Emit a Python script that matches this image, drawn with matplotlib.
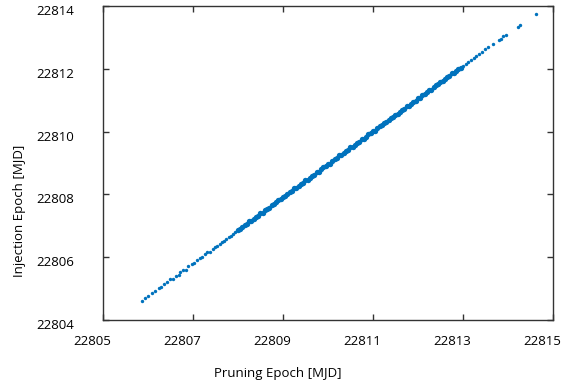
import matplotlib
matplotlib.use("Agg")
import matplotlib.pyplot as plt
import matplotlib.transforms as mtransforms

plt.rcParams['font.family'] = ['Open Sans', 'DejaVu Sans']

# pruning epoch (x) and injection epoch (y), MJD
low_x = [22805.86, 22805.93, 22806.00, 22806.08, 22806.16, 22806.24, 22806.30, 22806.36,
         22806.43, 22806.50, 22806.55, 22806.62, 22806.68, 22806.72, 22806.78, 22806.84,
         22806.90, 22806.97, 22807.03, 22807.10, 22807.15, 22807.21, 22807.27, 22807.32,
         22807.38, 22807.44, 22807.49, 22807.54, 22807.59, 22807.64, 22807.69, 22807.74,
         22807.79, 22807.84, 22807.89, 22807.94]
low_y = [22804.61, 22804.69, 22804.77, 22804.85, 22804.93, 22805.02, 22805.04, 22805.14,
         22805.22, 22805.32, 22805.30, 22805.41, 22805.43, 22805.52, 22805.58, 22805.60,
         22805.71, 22805.78, 22805.81, 22805.92, 22805.97, 22806.00, 22806.09, 22806.15,
         22806.18, 22806.27, 22806.33, 22806.35, 22806.43, 22806.48, 22806.50, 22806.59,
         22806.64, 22806.67, 22806.74, 22806.80]

mid_x = [22808.00, 22808.05, 22808.10, 22808.15, 22808.20, 22808.25, 22808.30, 22808.35,
         22808.40, 22808.45, 22808.50, 22808.55, 22808.60, 22808.65, 22808.70, 22808.75,
         22808.80, 22808.85, 22808.90, 22808.95, 22809.00, 22809.05, 22809.10, 22809.15,
         22809.20, 22809.25, 22809.30, 22809.35, 22809.40, 22809.45, 22809.50, 22809.55,
         22809.60, 22809.65, 22809.70, 22809.75, 22809.80, 22809.85, 22809.90, 22809.95,
         22810.00, 22810.05, 22810.10, 22810.15, 22810.20, 22810.25, 22810.30, 22810.35,
         22810.40, 22810.45, 22810.50, 22810.55, 22810.60, 22810.65, 22810.70, 22810.75,
         22810.80, 22810.85, 22810.90, 22810.95, 22811.00, 22811.05, 22811.10, 22811.15,
         22811.20, 22811.25, 22811.30, 22811.35, 22811.40, 22811.45, 22811.50, 22811.55,
         22811.60, 22811.65, 22811.70, 22811.75, 22811.80, 22811.85, 22811.90, 22811.95,
         22812.00, 22812.05, 22812.10, 22812.15, 22812.20, 22812.25, 22812.30, 22812.35,
         22812.40, 22812.45, 22812.50, 22812.55, 22812.60, 22812.65, 22812.70, 22812.75,
         22812.80, 22812.85, 22812.90, 22812.95]
mid_y = [22806.88, 22806.89, 22806.96, 22807.03, 22807.06, 22807.14, 22807.15, 22807.23,
         22807.29, 22807.32, 22807.40, 22807.42, 22807.49, 22807.55, 22807.58, 22807.66,
         22807.68, 22807.75, 22807.81, 22807.84, 22807.93, 22807.94, 22808.01, 22808.07,
         22808.11, 22808.19, 22808.20, 22808.27, 22808.34, 22808.37, 22808.45, 22808.46,
         22808.53, 22808.60, 22808.63, 22808.71, 22808.72, 22808.80, 22808.86, 22808.89,
         22808.97, 22808.98, 22809.06, 22809.12, 22809.15, 22809.24, 22809.25, 22809.32,
         22809.38, 22809.41, 22809.50, 22809.51, 22809.58, 22809.64, 22809.68, 22809.76,
         22809.77, 22809.84, 22809.91, 22809.94, 22810.02, 22810.03, 22810.10, 22810.17,
         22810.20, 22810.28, 22810.29, 22810.37, 22810.43, 22810.46, 22810.54, 22810.56,
         22810.63, 22810.69, 22810.72, 22810.80, 22810.82, 22810.89, 22810.95, 22810.98,
         22811.07, 22811.08, 22811.15, 22811.21, 22811.25, 22811.33, 22811.34, 22811.41,
         22811.48, 22811.51, 22811.59, 22811.60, 22811.68, 22811.74, 22811.77, 22811.85,
         22811.87, 22811.94, 22812.00, 22812.03]

high_x = [22813.00, 22813.06, 22813.12, 22813.18, 22813.24, 22813.30, 22813.36, 22813.42,
          22813.50, 22813.56, 22813.67, 22813.80, 22813.84, 22813.90, 22813.96, 22814.23,
          22814.27, 22814.62]
high_y = [22812.09, 22812.16, 22812.22, 22812.28, 22812.35, 22812.41, 22812.47, 22812.53,
          22812.62, 22812.68, 22812.80, 22812.91, 22812.96, 22813.03, 22813.09, 22813.33,
          22813.41, 22813.76]

x_ticks = [22805, 22807, 22809, 22811, 22813, 22815]
y_ticks = [22804, 22806, 22808, 22810, 22812, 22814]

fig = plt.figure(figsize=(5.61, 3.88), dpi=100)
ax = fig.add_axes([0.1836, 0.1753, 0.8021, 0.8093])

color = '#0072bd'
ax.scatter(low_x + high_x, low_y + high_y, s=6, color=color, linewidths=0, zorder=3)
# the dense middle stretch reads as a solid band
ax.scatter(mid_x, mid_y, s=15, color=color, linewidths=0, zorder=3)

ax.set_xlim(22805, 22815)
ax.set_ylim(22804, 22814)
ax.set_xticks(x_ticks)
ax.set_yticks(y_ticks)
ax.set_xticklabels([str(t) for t in x_ticks])
ax.set_yticklabels([str(t) for t in y_ticks])

ax.tick_params(direction='in', length=4, width=1, color='#333333', labelsize=9.5,
               top=True, right=True)
ax.tick_params(axis='x', pad=11)
ax.tick_params(axis='y', pad=21)
for s in ax.spines.values():
    s.set_color('#333333')
    s.set_linewidth(1)

# tick labels sit a little off their ticks in the original
dx = mtransforms.ScaledTranslation(-11 / 100, 0, fig.dpi_scale_trans)
for lbl in ax.get_xticklabels():
    lbl.set_transform(lbl.get_transform() + dx)
dy = mtransforms.ScaledTranslation(0, -4 / 100, fig.dpi_scale_trans)
for lbl in ax.get_yticklabels():
    lbl.set_transform(lbl.get_transform() + dy)

fig.text(278 / 561, 1 - 373 / 388, 'Pruning Epoch [MJD]', ha='center', va='center',
         fontsize=9.5)
fig.text(20 / 561, 1 - 211 / 388, 'Injection Epoch [MJD]', ha='center', va='center',
         rotation=90, fontsize=9.5)

fig.savefig('out.png', dpi=100)
